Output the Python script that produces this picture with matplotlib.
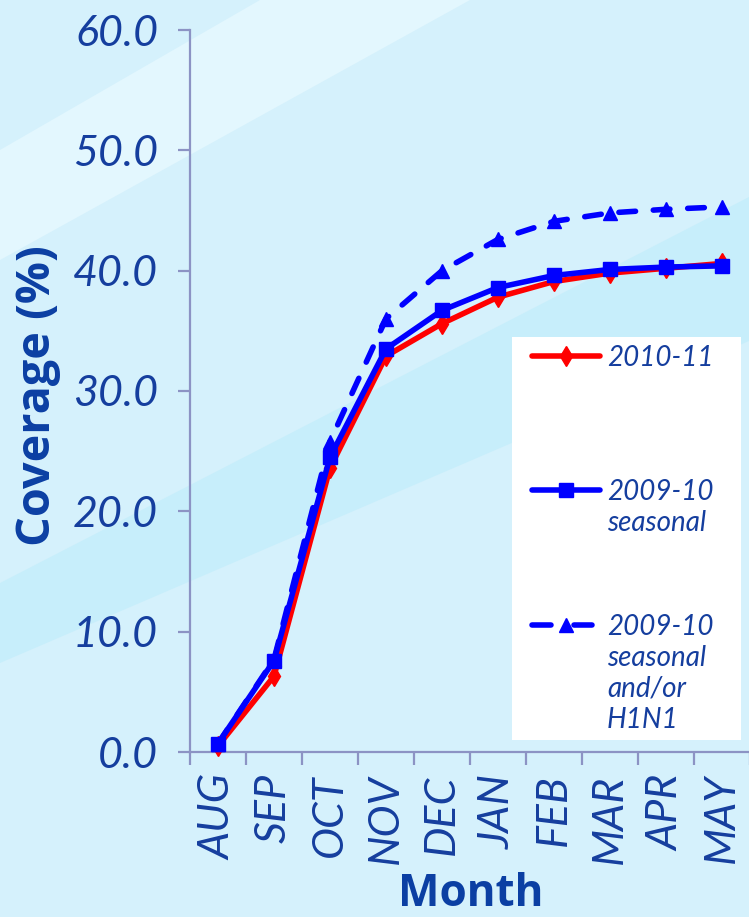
import matplotlib
matplotlib.use("Agg")
import matplotlib.pyplot as plt
from matplotlib.patches import Polygon, Rectangle
from matplotlib.lines import Line2D
import numpy as np

# ---------------- data ----------------
months = ["AUG", "SEP", "OCT", "NOV", "DEC", "JAN", "FEB", "MAR", "APR", "MAY"]
cov_2010_11 = [0.5, 6.3, 23.6, 32.9, 35.6, 37.8, 39.1, 39.8, 40.2, 40.6]
cov_2009_10_seasonal = [0.7, 7.6, 24.5, 33.5, 36.7, 38.6, 39.6, 40.1, 40.3, 40.4]
cov_2009_10_any = [0.7, 7.7, 25.8, 36.0, 40.0, 42.6, 44.1, 44.8, 45.1, 45.3]
legend_labels = ["2010-11", "2009-10\nseasonal", "2009-10\nseasonal\nand/or\nH1N1"]
yticks = [0, 10, 20, 30, 40, 50, 60]

W, H = 749, 917
TXT = "#153e9e"
BOLD = "#0b3fa3"
SPINE = "#8c93c4"
DASH = (3.0, 3.2)

def fx(x):
    return x / W

def fy(y):
    return 1 - y / H

fig = plt.figure(figsize=(W / 100, H / 100), dpi=100)
fig.patch.set_facecolor("#d5f1fc")
renderer = fig.canvas.get_renderer()

# background decorative bands
bands = [
    ([(0, 150), (260, 0), (470, 0), (0, 260)], "#e3f7fe"),
    ([(0, 583), (749, 197), (749, 341), (0, 663)], "#c7eefb"),
]
for pts, col in bands:
    fig.patches.append(Polygon([(fx(a), fy(b)) for a, b in pts], closed=True,
                               transform=fig.transFigure, facecolor=col,
                               edgecolor="none", zorder=-10))

ax = fig.add_axes([fx(190), fy(752), (750 - 190) / W, (752 - 30) / H])
ax.set_facecolor("none")
ax.set_xlim(0, len(months))
ax.set_ylim(0, 60)

x = np.arange(len(months)) + 0.5
l1, = ax.plot(x, cov_2010_11, color="#ff0000", lw=4, marker="d", ms=10,
              zorder=3, clip_on=False)
l2, = ax.plot(x, cov_2009_10_seasonal, color="#0000ff", lw=4, marker="s", ms=10.5,
              zorder=4, clip_on=False)
l3, = ax.plot(x, cov_2009_10_any, color="#0000ff", lw=4, ls=(0, DASH),
              dash_capstyle="round", marker="^", ms=10.5, zorder=5, clip_on=False)

for s in ["top", "right"]:
    ax.spines[s].set_visible(False)
for s in ["left", "bottom"]:
    ax.spines[s].set_color(SPINE)
    ax.spines[s].set_linewidth(1.6)

TICKSIZE = 31
ax.set_yticks(yticks)
ax.set_yticklabels([f"{v:.1f}" for v in yticks])
ax.tick_params(axis="y", length=9, width=1.6, color=SPINE, pad=14,
               labelsize=TICKSIZE, labelcolor=TXT)
for t in ax.get_yticklabels():
    t.set_family("Lato")
    t.set_style("italic")

ax.set_xticks(np.arange(len(months) + 1))
ax.set_xticklabels([])
ax.set_xticks(x, minor=True)
ax.set_xticklabels(months, minor=True, rotation=90)
ax.tick_params(axis="x", which="major", length=9, width=1.6, color=SPINE)
ax.tick_params(axis="x", which="minor", length=0, pad=16, labelsize=TICKSIZE,
               labelcolor=TXT)
for t in ax.get_xticklabels(minor=True):
    t.set_family("Lato")
    t.set_style("italic")
    t.set_va("top")

# axis titles, sized to match the reference extents
def fit_text(t, target, use_height=False):
    bb = t.get_window_extent(renderer)
    cur = bb.height if use_height else bb.width
    t.set_fontsize(t.get_fontsize() * target / cur)

ylab = fig.text(fx(38), fy(396), "Coverage (%)", fontsize=30, fontweight="bold",
                family="Open Sans", color=BOLD, ha="center", va="center",
                rotation=90)
fit_text(ylab, 300, use_height=True)

xlab = fig.text(fx(471), fy(906), "Month", fontsize=32, fontweight="bold",
                family="Open Sans", color=BOLD, ha="center", va="baseline")
fit_text(xlab, 146)

# legend (manual)
fig.patches.append(Rectangle((fx(512), fy(740)), (741 - 512) / W, (740 - 337) / H,
                             transform=fig.transFigure, facecolor="white",
                             edgecolor="none", zorder=1))
handles = [l1, l2, l3]
ys = [356, 490, 625]
for h, yy, lab in zip(handles, ys, legend_labels):
    if h is l3:
        segs = [(532, 551), (574, 592)]
    else:
        segs = [(532, 600)]
    for a, b in segs:
        fig.add_artist(Line2D([fx(a), fx(b)], [fy(yy), fy(yy)],
                              transform=fig.transFigure, color=h.get_color(), lw=4,
                              solid_capstyle="round", zorder=2))
    mk = Line2D([fx(566)], [fy(yy)], transform=fig.transFigure, color=h.get_color(),
                marker=h.get_marker(), ms=h.get_markersize(), lw=0, zorder=3)
    fig.add_artist(mk)
    for i, line in enumerate(lab.split("\n")):
        fig.text(fx(607), fy(yy + 10 + i * 31), line, fontsize=20, family="Lato",
                 style="italic", color=TXT, ha="left", va="baseline", zorder=3)

fig.savefig("out.png", dpi=100, facecolor=fig.get_facecolor())
